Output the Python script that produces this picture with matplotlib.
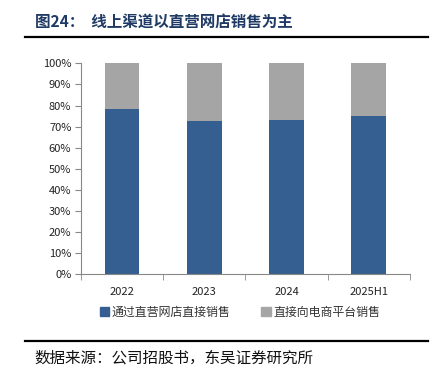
import matplotlib.pyplot as plt
from matplotlib.lines import Line2D
from matplotlib.patches import Patch
import numpy as np

plt.rcParams['font.family'] = ['Noto Sans CJK SC', 'DejaVu Sans']

# data
years = ['2022', '2023', '2024', '2025H1']
direct_store = [78.2, 72.6, 73.1, 74.9]  # 通过直营网店直接销售 (%)
platform = [100 - v for v in direct_store]  # 直接向电商平台销售 (%)

blue = '#365F91'
grey = '#A5A5A5'

fig = plt.figure(figsize=(4.36, 3.79), dpi=100)
ax = fig.add_axes([0.186, 0.276, 0.754, 0.557])

x = np.arange(len(years))
ax.bar(x, direct_store, width=0.42, color=blue, label='通过直营网店直接销售')
ax.bar(x, platform, width=0.42, bottom=direct_store, color=grey, label='直接向电商平台销售')

ax.set_xlim(-0.5, len(years) - 0.5)
ax.set_ylim(0, 100)
ax.set_yticks(range(0, 101, 10))
ax.set_yticklabels([f'{v}%' for v in range(0, 101, 10)])
ax.set_xticks(x)
ax.set_xticklabels(years)
ax.set_xticks(np.arange(-0.5, len(years)), minor=True)
ax.tick_params(axis='x', which='major', length=0, pad=9)
ax.tick_params(axis='x', which='minor', length=4, color='#888888')
ax.tick_params(axis='y', length=4, color='#888888', pad=3)
ax.tick_params(labelsize=8, labelcolor='#222222')
for s in ['top', 'right']:
    ax.spines[s].set_visible(False)
for s in ['left', 'bottom']:
    ax.spines[s].set_color('#888888')
    ax.spines[s].set_linewidth(0.8)

handles = [Patch(color=blue), Patch(color=grey)]
fig.legend(handles, ['通过直营网店直接销售', '直接向电商平台销售'], loc='center',
           bbox_to_anchor=(0.55, 0.176), ncol=2, frameon=False, fontsize=8.6,
           handlelength=0.8, handleheight=0.8, handletextpad=0.2, columnspacing=2.6,
           labelcolor='#333333')

# title and source
fig.text(0.08, 0.942, '图24：  线上渠道以直营网店销售为主', fontsize=11.2, fontweight='bold',
         color='#1F3A64', va='center', ha='left')
fig.add_artist(Line2D([0.057, 0.982], [0.902, 0.902], color='black', lw=1.6))
fig.add_artist(Line2D([0.057, 0.982], [0.101, 0.101], color='black', lw=1.6))
fig.text(0.08, 0.055, '数据来源：公司招股书，东吴证券研究所', fontsize=11.2, color='#111111',
         va='center', ha='left')

fig.savefig('out.png', dpi=100)
